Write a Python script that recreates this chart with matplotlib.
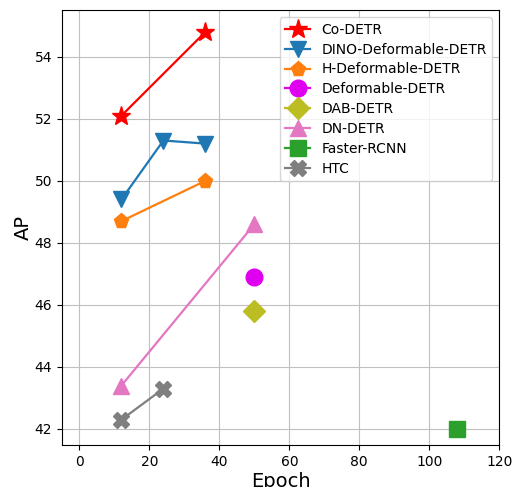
import matplotlib
matplotlib.use("Agg")
import matplotlib.pyplot as plt

names = ["Co-DETR", "DINO-Deformable-DETR", "H-Deformable-DETR", "Deformable-DETR",
         "DAB-DETR", "DN-DETR", "Faster-RCNN", "HTC"]
epochs = [[12, 36], [12, 24, 36], [12, 36], [50], [50], [12, 50], [108], [12, 24]]
aps = [[52.1, 54.8], [49.4, 51.3, 51.2], [48.7, 50.0], [46.9], [45.8], [43.4, 48.6], [42.0], [42.3, 43.3]]
colors = ["red", "tab:blue", "tab:orange", "#e000f0", "tab:olive", "tab:pink", "tab:green", "tab:gray"]
markers = ["*", "v", "p", "o", "D", "^", "s", "X"]
msizes = [14, 12, 11, 12, 11, 12, 12, 12]

fig, ax = plt.subplots(figsize=(5.12, 4.87), dpi=100)
fig.subplots_adjust(left=0.121, right=0.975, top=0.979, bottom=0.086)

for n, x, y, c, m, s in zip(names, epochs, aps, colors, markers, msizes):
    ax.plot(x, y, color=c, marker=m, markersize=s, linewidth=1.6, label=n, zorder=3)

ax.set_xlim(-5, 120)
ax.set_ylim(41.48, 55.5)
ax.set_xticks([0, 20, 40, 60, 80, 100, 120])
ax.set_yticks([42, 44, 46, 48, 50, 52, 54])
ax.grid(True, color="#c0c0c0")
ax.set_axisbelow(True)
ax.set_xlabel("Epoch", fontsize=14, labelpad=2)
ax.set_ylabel("AP", fontsize=14, labelpad=1)
ax.legend(loc="upper right", fontsize=10, handlelength=1.8, borderaxespad=0.5,
          labelspacing=0.42)

plt.savefig("out.png", dpi=100)
